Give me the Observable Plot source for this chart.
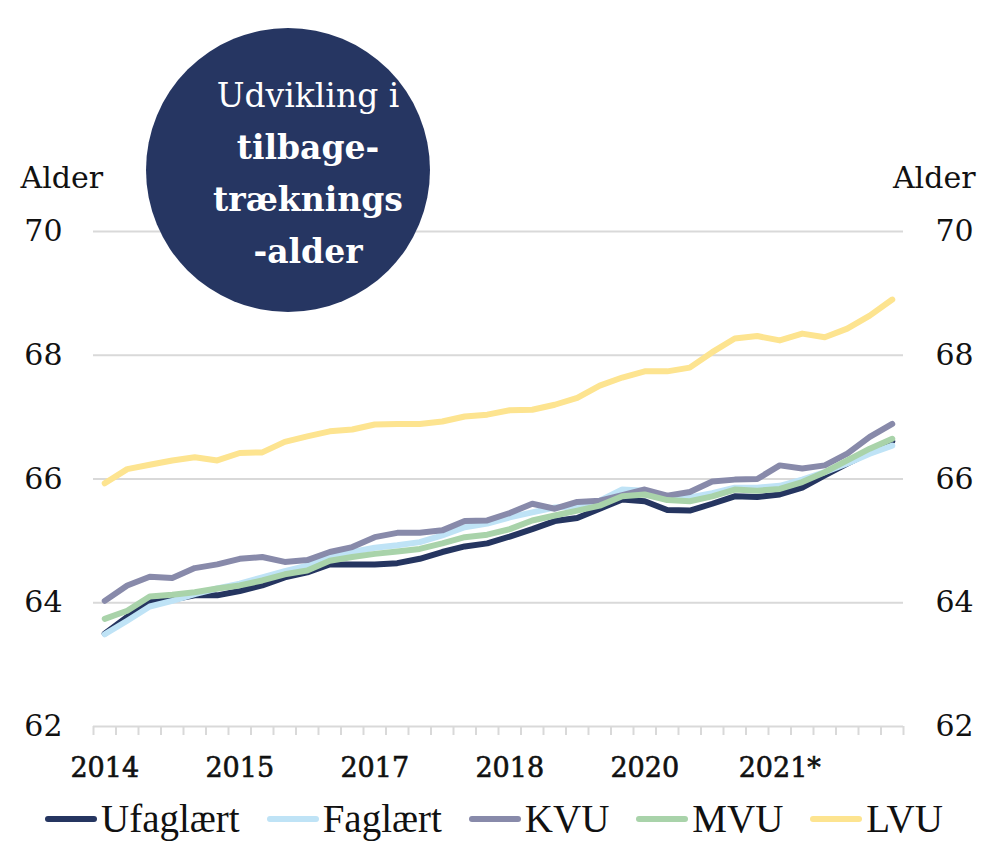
<!DOCTYPE html>
<html>
<head>
<meta charset="utf-8">
<script src="https://cdn.jsdelivr.net/npm/d3@7"></script>
<script src="https://cdn.jsdelivr.net/npm/@observablehq/plot@0.6"></script>
<style>
  html, body { margin: 0; padding: 0; background: #fff; }
  #wrap { position: relative; width: 984px; height: 842px; overflow: hidden; font-family: "DejaVu Serif", serif; }
  #chart { position: absolute; left: 0; top: 0; }
  #bubble { position: absolute; border-radius: 50%; background: #263662; color: #fff;
            display: flex; flex-direction: column; align-items: center; justify-content: center;
            font-family: "DejaVu Serif", serif; font-size: 33px; line-height: 52px; text-align: center; }
  #bubble b { font-weight: bold; }
  #legend { position: absolute; left: 45px; top: 800px; height: 38px; display: flex; align-items: center; gap: 27px;
            font-family: "Liberation Serif", serif; font-size: 39px; line-height: 38px; color: #111; }
  .item { display: flex; align-items: center; }
  .sw { width: 52px; height: 6px; border-radius: 3px; margin-right: 4px; }
  .xlab text { stroke: #111; stroke-width: 0.6px; }
</style>
</head>
<body>
<div id="wrap">
  <div id="chart"></div>
  <div id="bubble"></div>
  <div id="legend"></div>
</div>
<script>
// Quarters 2014K1 .. 2022K4
const quarters = [];
for (let y = 2014; y <= 2022; y++) for (let q = 1; q <= 4; q++) quarters.push(y + "K" + q);

const tickLabelIndex = [0, 6, 12, 18, 24, 30];
const tickLabels = ["2014", "2015", "2017", "2018", "2020", "2021*"];

const seriesNames = ["Ufaglært", "Faglært", "KVU", "MVU", "LVU"];
const seriesColors = ["#253560", "#bfe3f6", "#888aaa", "#a9d3aa", "#fde490"];

const ufaglaert = [63.50, 63.77, 64.01, 64.05, 64.12, 64.12, 64.19, 64.28, 64.41, 64.49, 64.62, 64.62,
                   64.62, 64.64, 64.71, 64.82, 64.91, 64.96, 65.07, 65.19, 65.32, 65.37, 65.52, 65.67,
                   65.64, 65.50, 65.49, 65.60, 65.72, 65.71, 65.75, 65.86, 66.06, 66.25, 66.43, 66.61];
const faglaert  = [63.49, 63.71, 63.94, 64.03, 64.14, 64.23, 64.31, 64.41, 64.51, 64.60, 64.75, 64.82,
                   64.89, 64.93, 64.98, 65.09, 65.22, 65.28, 65.38, 65.46, 65.54, 65.56, 65.65, 65.83,
                   65.81, 65.72, 65.70, 65.77, 65.86, 65.86, 65.89, 65.99, 66.11, 66.25, 66.41, 66.54];
const kvu       = [64.03, 64.28, 64.42, 64.40, 64.56, 64.62, 64.71, 64.74, 64.66, 64.69, 64.82, 64.90,
                   65.06, 65.13, 65.13, 65.17, 65.32, 65.33, 65.45, 65.60, 65.52, 65.63, 65.65, 65.74,
                   65.83, 65.73, 65.79, 65.96, 65.99, 66.00, 66.22, 66.17, 66.22, 66.41, 66.68, 66.89];
const mvu       = [63.74, 63.87, 64.10, 64.13, 64.17, 64.23, 64.28, 64.36, 64.46, 64.52, 64.68, 64.74,
                   64.79, 64.83, 64.87, 64.96, 65.06, 65.10, 65.19, 65.33, 65.41, 65.49, 65.57, 65.72,
                   65.75, 65.66, 65.64, 65.72, 65.83, 65.81, 65.84, 65.95, 66.11, 66.30, 66.49, 66.65];
const lvu       = [65.93, 66.16, 66.23, 66.30, 66.35, 66.30, 66.42, 66.43, 66.60, 66.69, 66.77, 66.80,
                   66.88, 66.89, 66.89, 66.93, 67.01, 67.04, 67.11, 67.12, 67.20, 67.31, 67.51, 67.64,
                   67.74, 67.74, 67.80, 68.05, 68.27, 68.31, 68.24, 68.35, 68.29, 68.43, 68.64, 68.90];

const yTicks = [62, 64, 66, 68, 70];
const gridTicks = [64, 66, 68, 70];

const allSeries = [ufaglaert, faglaert, kvu, mvu, lvu];
const rows = [];
allSeries.forEach((arr, s) => arr.forEach((v, i) => rows.push({serie: seriesNames[s], i, q: quarters[i], v})));

const boundaries = d3.range(quarters.length + 1).map(k => k - 0.5);

const plot = Plot.plot({
  width: 984,
  height: 800,
  marginLeft: 93,
  marginRight: 81,
  marginTop: 231,
  marginBottom: 74,
  style: {fontFamily: "DejaVu Serif", fontSize: "30px", color: "#111", background: "transparent"},
  x: {type: "linear", domain: [-0.5, quarters.length - 0.5], label: null},
  y: {domain: [62, 70], label: null},
  color: {domain: seriesNames, range: seriesColors},
  marks: [
    Plot.ruleY(gridTicks, {stroke: "#d9d9d9", strokeWidth: 2}),
    Plot.ruleY([62], {stroke: "#d9d9d9", strokeWidth: 2}),
    Plot.axisX({ticks: boundaries, tickSize: 9, tickFormat: () => "", label: null, stroke: "#d9d9d9", strokeWidth: 2, strokeOpacity: 1}),
    Plot.axisX({ticks: tickLabelIndex, tickSize: 0, tickPadding: 31, label: null, tickFormat: d => tickLabels[tickLabelIndex.indexOf(d)], fontSize: 27, className: "xlab"}),
    Plot.axisY({anchor: "left", ticks: yTicks, tickSize: 0, tickPadding: 31, label: null, tickFormat: d => String(d)}),
    Plot.axisY({anchor: "right", ticks: yTicks, tickSize: 0, tickPadding: 32, label: null, tickFormat: d => String(d)}),
    Plot.text(["Alder"], {frameAnchor: "top-left", dx: -73, dy: -44, textAnchor: "start", lineAnchor: "bottom", fontSize: 30}),
    Plot.text(["Alder"], {frameAnchor: "top-right", dx: 72, dy: -44, textAnchor: "end", lineAnchor: "bottom", fontSize: 30}),
    Plot.line(rows, {x: "i", y: "v", z: "serie", stroke: "serie", strokeWidth: 6, strokeLinecap: "round", strokeLinejoin: "round"})
  ]
});
document.getElementById("chart").appendChild(plot);

// Title bubble
const bubble = document.getElementById("bubble");
const cx = 288, cy = 170, r = 142;
Object.assign(bubble.style, {left: (cx - r) + "px", top: (cy - r) + "px", width: (2 * r) + "px", height: (2 * r) + "px"});
bubble.innerHTML = '<div style="padding-left:40px;padding-top:8px">Udvikling i<br><b>tilbage-</b><br><b>træknings</b><br><b>-alder</b></div>';

// Legend
const legend = document.getElementById("legend");
seriesNames.forEach((n, k) => {
  const it = document.createElement("div");
  it.className = "item";
  it.innerHTML = `<span class="sw" style="background:${seriesColors[k]}"></span><span>${n}</span>`;
  legend.appendChild(it);
});
</script>
</body>
</html>
